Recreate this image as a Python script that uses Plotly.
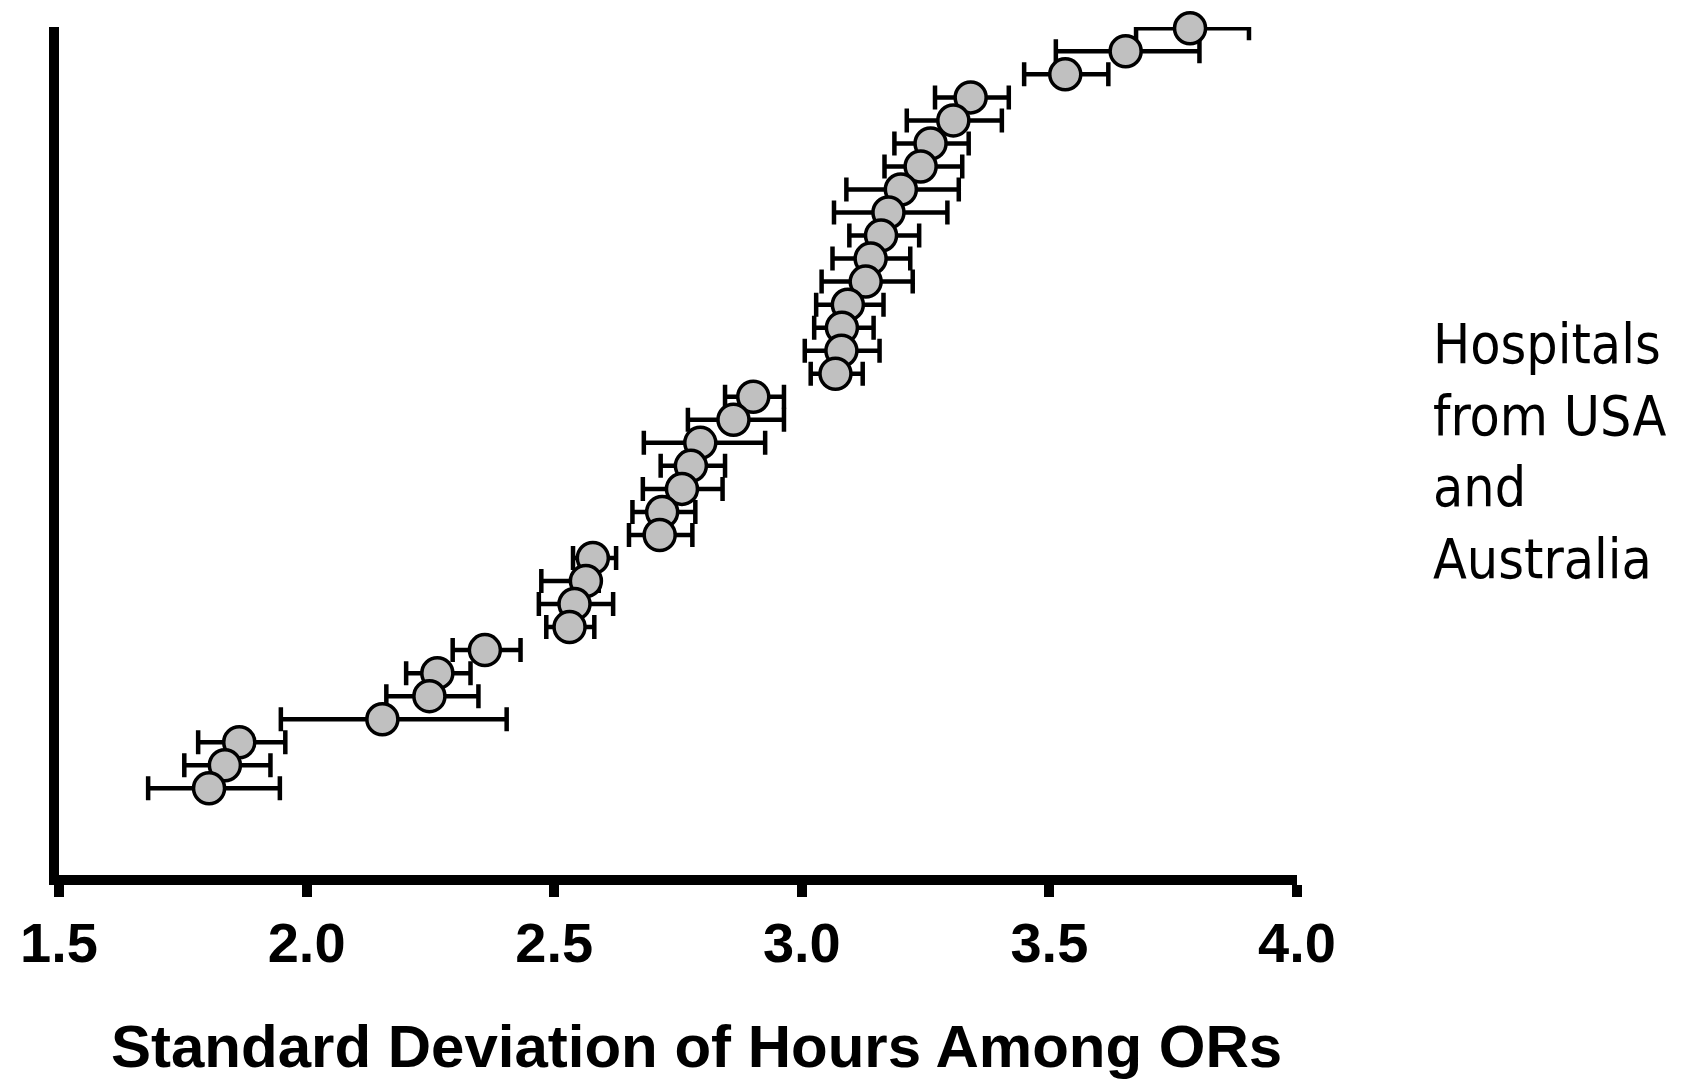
import plotly.graph_objects as go

# Hospitals ranked from lowest (1) to highest (34) SD of hours among ORs
hospital_rank = [1, 2, 3, 4, 5, 6, 7, 8, 9, 10, 11, 12, 13, 14, 15, 16, 17,
                 18, 19, 20, 21, 22, 23, 24, 25, 26, 27, 28, 29, 30, 31, 32, 33, 34]

sd_hours = [1.803, 1.835, 1.864, 2.153, 2.248, 2.264, 2.360, 2.531, 2.541, 2.564,
            2.578, 2.713, 2.718, 2.758, 2.776, 2.795, 2.862, 2.902, 3.068, 3.080,
            3.081, 3.093, 3.129, 3.139, 3.160, 3.175, 3.200, 3.240, 3.260, 3.306,
            3.341, 3.532, 3.654, 3.784]

ci_lower = [1.680, 1.753, 1.781, 1.948, 2.161, 2.201, 2.295, 2.484, 2.469, 2.474,
            2.538, 2.651, 2.658, 2.679, 2.715, 2.681, 2.770, 2.845, 3.018, 3.006,
            3.025, 3.029, 3.040, 3.062, 3.096, 3.065, 3.090, 3.167, 3.187, 3.212,
            3.269, 3.449, 3.513, 3.675]

ci_upper = [1.946, 1.927, 1.957, 2.404, 2.347, 2.331, 2.432, 2.581, 2.619, 2.590,
            2.625, 2.779, 2.785, 2.840, 2.845, 2.926, 2.964, 2.964, 3.123, 3.157,
            3.145, 3.165, 3.224, 3.219, 3.237, 3.294, 3.317, 3.324, 3.337, 3.404,
            3.418, 3.619, 3.803, 3.903]

x_tick_values = [1.5, 2.0, 2.5, 3.0, 3.5, 4.0]
x_tick_labels = ["1.5", "2.0", "2.5", "3.0", "3.5", "4.0"]

x_title = "Standard Deviation of Hours Among ORs"
side_label = "Hospitals<br>from USA<br>and<br>Australia"

# draw from top to bottom so lower points overlap the ones above
order = list(range(len(hospital_rank)))[::-1]
xs = [sd_hours[i] for i in order]
ys = [hospital_rank[i] for i in order]
err_plus = [ci_upper[i] - sd_hours[i] for i in order]
err_minus = [sd_hours[i] - ci_lower[i] for i in order]

fig = go.Figure()
fig.add_trace(go.Scatter(
    x=xs, y=ys, mode="markers",
    marker=dict(size=31, color="#c0c0c0", line=dict(color="black", width=3.5)),
    error_x=dict(type="data", symmetric=False, array=err_plus, arrayminus=err_minus,
                 color="black", thickness=4.5, width=12),
    cliponaxis=False,
    showlegend=False,
))

bold_font = "Liberation Sans, Arial, Helvetica, sans-serif"

# the page body adds an 8px margin, so the figure is sized to fit inside it
fig.update_layout(
    width=1668, height=1075,
    margin=dict(l=44, r=379, t=19, b=208),
    plot_bgcolor="white", paper_bgcolor="white",
    xaxis=dict(
        range=[1.5, 4.0],
        tickmode="array", tickvals=x_tick_values, ticktext=x_tick_labels,
        ticks="outside", ticklen=12, tickwidth=10, tickcolor="black",
        showline=True, linewidth=10, linecolor="black",
        showgrid=False, zeroline=False,
        tickfont=dict(family=bold_font, size=56, color="black", weight="bold"),
        ticklabelstandoff=-2,
    ),
    yaxis=dict(
        range=[-2.765, 34.056],
        showline=True, linewidth=10, linecolor="black",
        showticklabels=False, ticks="", showgrid=False, zeroline=False,
    ),
    annotations=[
        dict(text=x_title, xref="paper", yref="paper", x=0.5149, y=-0.2025,
             xanchor="center", yanchor="middle", showarrow=False,
             font=dict(family=bold_font, size=60, color="black", weight="bold")),
        dict(text=side_label, xref="paper", yref="paper", x=1.1084, y=0.5,
             xanchor="left", yanchor="middle", align="left", showarrow=False,
             font=dict(family="DejaVu Sans Condensed, Noto Sans, DejaVu Sans", size=55, color="black")),
    ],
)

fig.write_html("out.html")
